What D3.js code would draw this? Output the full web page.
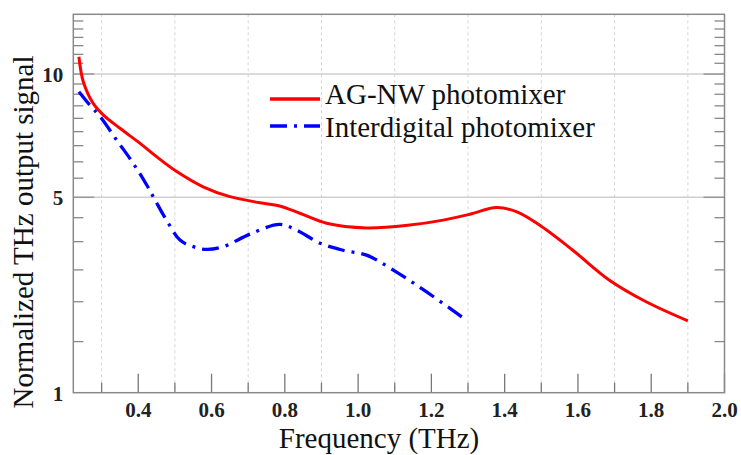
<!DOCTYPE html>
<html>
<head>
<meta charset="utf-8">
<script src="https://cdn.jsdelivr.net/npm/d3@7"></script>
<style>
  body { margin: 0; background: #fff; }
  svg { display: block; }
  .tick-label { font-family: "Liberation Serif", serif; font-weight: bold; font-size: 21px; fill: #222; }
  .title { font-family: "Liberation Serif", serif; font-size: 29px; fill: #111; }
</style>
</head>
<body>
<div id="chart"></div>
<script>
const w = 741;
const h = 455;

// frequency (THz) / normalized signal
const agFreq = [0.238, 0.250, 0.277, 0.305, 0.350, 0.405, 0.450, 0.505, 0.577, 0.650, 0.732, 0.786, 0.841, 0.914, 1.023, 1.141, 1.232, 1.305, 1.377, 1.432, 1.495, 1.586, 1.686, 1.786, 1.900];
const agSignal = [10.89, 9.62, 8.60, 8.08, 7.52, 6.91, 6.40, 5.86, 5.34, 5.02, 4.83, 4.73, 4.51, 4.22, 4.09, 4.17, 4.31, 4.48, 4.68, 4.56, 4.17, 3.50, 2.80, 2.36, 2.01];

const idFreq = [0.238, 0.268, 0.296, 0.341, 0.386, 0.423, 0.446, 0.477, 0.514, 0.550, 0.587, 0.632, 0.705, 0.786, 0.832, 0.896, 0.959, 1.023, 1.095, 1.186, 1.296];
const idSignal = [9.14, 8.52, 8.01, 7.04, 6.16, 5.40, 4.91, 4.31, 3.76, 3.59, 3.52, 3.59, 3.92, 4.19, 4.03, 3.68, 3.50, 3.38, 3.03, 2.56, 2.02];

const xMajor = [0.4, 0.6, 0.8, 1.0, 1.2, 1.4, 1.6, 1.8, 2.0];
const xMinor = [0.3, 0.5, 0.7, 0.9, 1.1, 1.3, 1.5, 1.7, 1.9];
const yMajor = [1, 5, 10];
const yMinor = [1.67, 2.36, 3.03, 3.72, 4.38, 5.63, 6.21, 6.82, 7.38, 7.94, 8.49, 9.02, 9.51, 10.55, 11.02, 11.49, 11.95, 12.43, 12.9];

const seriesNames = ["AG-NW photomixer", "Interdigital photomixer"];
const xTitle = "Frequency (THz)";
const yTitle = "Normalized THz output signal";

const plotL = 73.3, plotR = 724.5, plotT = 14.3, plotB = 392.7;

const x = d3.scaleLinear().domain([0.2227, 2.0]).range([plotL, plotR]);
const y = d3.scalePow().exponent(0.34).domain([1, 13.3]).range([plotB, plotT]);

const svg = d3.select("#chart").append("svg")
  .attr("width", w).attr("height", h);

// vertical dashed grid at the odd tenths
svg.append("g").selectAll("line")
  .data(xMinor)
  .enter().append("line")
  .attr("x1", (d) => x(d)).attr("x2", (d) => x(d))
  .attr("y1", plotT).attr("y2", plotB)
  .style("stroke", "#d4d4d4").style("stroke-width", 1)
  .style("stroke-dasharray", "3,3");

// horizontal grid at labelled values
svg.append("g").selectAll("line")
  .data(yMajor.filter((d) => d > 1))
  .enter().append("line")
  .attr("x1", plotL).attr("x2", plotR)
  .attr("y1", (d) => y(d)).attr("y2", (d) => y(d))
  .style("stroke", "#cfcfcf").style("stroke-width", 1.5);

// ticks (all pointing inward)
const ticks = svg.append("g");
ticks.selectAll(".xmaj").data(xMajor).enter().append("line")
  .attr("x1", (d) => x(d)).attr("x2", (d) => x(d))
  .attr("y1", plotB).attr("y2", plotB - 19)
  .style("stroke", "#777").style("stroke-width", 1.3);
ticks.selectAll(".xmin").data(xMinor).enter().append("line")
  .attr("x1", (d) => x(d)).attr("x2", (d) => x(d))
  .attr("y1", plotB).attr("y2", plotB - 10)
  .style("stroke", "#777").style("stroke-width", 1.3);
[[plotL, 1], [plotR, -1]].forEach(([x0, dir]) => {
  ticks.append("g").selectAll("line").data(yMajor.filter((d) => d > 1)).enter().append("line")
    .attr("x1", x0).attr("x2", x0 + dir * 21)
    .attr("y1", (d) => y(d)).attr("y2", (d) => y(d))
    .style("stroke", "#999").style("stroke-width", 1.5);
  ticks.append("g").selectAll("line").data(yMinor).enter().append("line")
    .attr("x1", x0).attr("x2", x0 + dir * 10)
    .attr("y1", (d) => y(d)).attr("y2", (d) => y(d))
    .style("stroke", "#888").style("stroke-width", 1.3);
});

// frame
svg.append("rect")
  .attr("x", plotL).attr("y", plotT)
  .attr("width", plotR - plotL).attr("height", plotB - plotT)
  .style("fill", "none").style("stroke", "#8a8a8a").style("stroke-width", 1.5);

// tick labels
svg.append("g").selectAll("text").data(xMajor).enter().append("text")
  .attr("class", "tick-label")
  .attr("x", (d) => x(d)).attr("y", plotB + 24)
  .attr("text-anchor", "middle")
  .text((d) => d.toFixed(1));
svg.append("g").selectAll("text").data(yMajor).enter().append("text")
  .attr("class", "tick-label")
  .attr("x", plotL - 10).attr("y", (d) => y(d) + 8)
  .attr("text-anchor", "end")
  .text((d) => d);

// curves
const line = d3.line()
  .x((d) => x(d[0])).y((d) => y(d[1]))
  .curve(d3.curveCatmullRom.alpha(0.5));

svg.append("path")
  .datum(d3.zip(agFreq, agSignal))
  .attr("d", line)
  .style("fill", "none").style("stroke", "#ff0000").style("stroke-width", 3);

svg.append("path")
  .datum(d3.zip(idFreq, idSignal))
  .attr("d", line)
  .style("fill", "none").style("stroke", "#0000ff").style("stroke-width", 3.3)
  .style("stroke-dasharray", "17,7,3,7");

// legend
const legend = svg.append("g").attr("transform", "translate(270,99)");
const styles = [
  { color: "#ff0000", dash: null, lineY: 0, textY: 4.5 },
  { color: "#0000ff", dash: "17,7,3,7", lineY: 27, textY: 37.5 }
];
seriesNames.forEach((name, i) => {
  legend.append("line")
    .attr("x1", 0).attr("x2", 50)
    .attr("y1", styles[i].lineY).attr("y2", styles[i].lineY)
    .style("stroke", styles[i].color).style("stroke-width", 3.3)
    .style("stroke-dasharray", styles[i].dash);
  legend.append("text")
    .attr("class", "title")
    .attr("x", 55).attr("y", styles[i].textY)
    .text(name);
});

// axis titles
svg.append("text")
  .attr("class", "title")
  .attr("x", 379).attr("y", 448)
  .attr("text-anchor", "middle")
  .text(xTitle);

svg.append("text")
  .attr("class", "title")
  .attr("transform", "translate(33,232) rotate(-90)")
  .attr("text-anchor", "middle")
  .text(yTitle);
</script>
</body>
</html>
